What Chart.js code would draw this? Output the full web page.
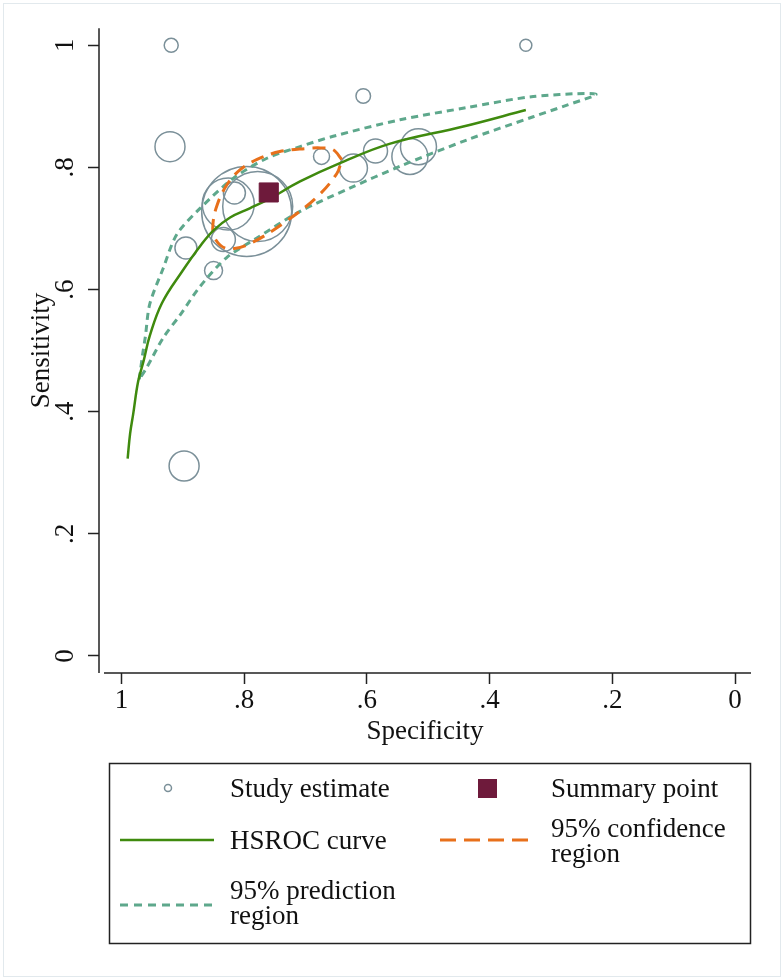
<!DOCTYPE html>
<html>
<head>
<meta charset="utf-8">
<script src="https://cdn.jsdelivr.net/npm/chart.js@4.4.1/dist/chart.umd.min.js"></script>
<style>
  html, body { margin: 0; padding: 0; background: #fff; }
  canvas { display: block; }
</style>
</head>
<body>
<canvas id="canvas-1" width="784" height="980"></canvas>
<script>
// study estimates
var studySpec = [0.919, 0.341, 0.606, 0.921, 0.796, 0.778, 0.826, 0.816, 0.834, 0.895, 0.850, 0.674, 0.622, 0.586, 0.530, 0.516, 0.898];
var studySens = [1.000, 1.000, 0.917, 0.834, 0.728, 0.736, 0.740, 0.758, 0.682, 0.668, 0.631, 0.818, 0.799, 0.827, 0.818, 0.834, 0.311];
var studyWeight = [49, 36, 53, 225, 2025, 1225, 676, 121, 144, 121, 81, 64, 196, 144, 324, 324, 225];

// summary point
var summarySpec = [0.760];
var summarySens = [0.759];

// HSROC curve
var hsrocSpec = [0.990, 0.986, 0.981, 0.973, 0.964, 0.954, 0.934, 0.901, 0.872, 0.850, 0.823, 0.791, 0.760, 0.709, 0.644, 0.562, 0.443, 0.341];
var hsrocSens = [0.323, 0.364, 0.396, 0.449, 0.483, 0.524, 0.578, 0.630, 0.671, 0.697, 0.718, 0.733, 0.748, 0.777, 0.807, 0.839, 0.867, 0.894];

// 95% confidence region
var confSpec = [0.641, 0.655, 0.676, 0.698, 0.742, 0.779, 0.807, 0.828, 0.844, 0.851, 0.848, 0.828, 0.791, 0.730, 0.681, 0.649, 0.641];
var confSens = [0.813, 0.829, 0.832, 0.831, 0.826, 0.813, 0.796, 0.772, 0.739, 0.707, 0.684, 0.667, 0.675, 0.713, 0.752, 0.790, 0.813];

// 95% prediction region
var predSpec = [0.971, 0.966, 0.961, 0.954, 0.932, 0.910, 0.872, 0.818, 0.763, 0.709, 0.655, 0.546, 0.437, 0.329, 0.227,
                0.274, 0.329, 0.437, 0.546, 0.628, 0.709, 0.780, 0.829, 0.872, 0.904, 0.932, 0.959, 0.971];
var predSens = [0.453, 0.491, 0.524, 0.576, 0.635, 0.690, 0.733, 0.782, 0.815, 0.834, 0.851, 0.878, 0.898, 0.916, 0.920,
                0.902, 0.883, 0.845, 0.802, 0.766, 0.728, 0.684, 0.652, 0.605, 0.559, 0.521, 0.472, 0.453];

var tickValues = [0, 0.2, 0.4, 0.6, 0.8, 1];
var tickLabels = ['0', '.2', '.4', '.6', '.8', '1'];

var seriesLabels = ['Study estimate', 'Summary point', 'HSROC curve', '95% confidence region', '95% prediction region'];

var studyColor = '#7b9099';
var summaryColor = '#6e1a3b';
var hsrocColor = '#3f8a0e';
var confColor = '#e8701b';
var predColor = '#5ea88c';
var axisColor = '#222';
var serif = "'Liberation Serif', 'Times New Roman', serif";

function pairs(xs, ys) {
  return xs.map(function (x, i) { return { x: x, y: ys[i] }; });
}

var studyData = studySpec.map(function (x, i) {
  return { x: x, y: studySens[i], r: Math.sqrt(studyWeight[i]) };
});

// Stata style axis lines: they don't meet in the corner
var axesPlugin = {
  id: 'stataAxes',
  afterDraw: function (chart) {
    var a = chart.chartArea;
    var ctx = chart.ctx;
    ctx.save();
    // faint graph region outline
    ctx.strokeStyle = '#e2e9ed';
    ctx.lineWidth = 1;
    ctx.strokeRect(3.5, 3.5, chart.width - 7, chart.height - 7);

    ctx.strokeStyle = axisColor;
    ctx.lineWidth = 1.5;
    ctx.beginPath();
    ctx.moveTo(a.left, a.top);
    ctx.lineTo(a.left, a.bottom);
    ctx.moveTo(a.left + 5, a.bottom);
    ctx.lineTo(a.right, a.bottom);
    ctx.stroke();
    ctx.restore();
  }
};

var legendPlugin = {
  id: 'stataLegend',
  afterDraw: function (chart) {
    var ctx = chart.ctx;
    ctx.save();
    ctx.strokeStyle = axisColor;
    ctx.lineWidth = 1.5;
    ctx.strokeRect(109.5, 763.5, 641, 180);

    ctx.font = '27px ' + serif;
    ctx.fillStyle = '#111';
    ctx.textBaseline = 'alphabetic';
    ctx.textAlign = 'left';

    // study estimate
    ctx.beginPath();
    ctx.arc(168, 788, 3.5, 0, Math.PI * 2);
    ctx.strokeStyle = studyColor;
    ctx.lineWidth = 1.5;
    ctx.stroke();
    ctx.fillText(seriesLabels[0], 230, 797);

    // summary point
    ctx.fillStyle = summaryColor;
    ctx.fillRect(478, 779, 19, 19);
    ctx.fillStyle = '#111';
    ctx.fillText(seriesLabels[1], 551, 797);

    function seg(x1, x2, y, color, w, dash) {
      ctx.beginPath();
      ctx.setLineDash(dash);
      ctx.strokeStyle = color;
      ctx.lineWidth = w;
      ctx.moveTo(x1, y);
      ctx.lineTo(x2, y);
      ctx.stroke();
      ctx.setLineDash([]);
    }

    seg(120, 214, 840, hsrocColor, 2.5, []);
    ctx.fillText(seriesLabels[2], 230, 849);

    seg(440, 528, 840, confColor, 3, [16, 8]);
    ctx.fillText('95% confidence', 551, 837);
    ctx.fillText('region', 551, 862);

    seg(120, 212, 905, predColor, 3, [8, 6]);
    ctx.fillText('95% prediction', 230, 899);
    ctx.fillText('region', 230, 924);
    ctx.restore();
  }
};

var chart = new Chart(document.getElementById('canvas-1'), {
  type: 'scatter',
  data: {
    datasets: [{
      label: seriesLabels[1],
      data: pairs(summarySpec, summarySens),
      pointStyle: 'rect',
      pointRadius: 13.5,
      backgroundColor: summaryColor,
      borderColor: summaryColor,
      borderWidth: 1
    }, {
      label: seriesLabels[2],
      data: pairs(hsrocSpec, hsrocSens),
      showLine: true,
      pointRadius: 0,
      borderColor: hsrocColor,
      borderWidth: 2.5,
      tension: 0.4
    }, {
      label: seriesLabels[3],
      data: pairs(confSpec, confSens),
      showLine: true,
      pointRadius: 0,
      borderColor: confColor,
      borderWidth: 3,
      borderDash: [13, 8],
      tension: 0.35
    }, {
      label: seriesLabels[4],
      data: pairs(predSpec, predSens),
      showLine: true,
      pointRadius: 0,
      borderColor: predColor,
      borderWidth: 3,
      borderDash: [7, 5],
      tension: 0.3
    }, {
      type: 'bubble',
      label: seriesLabels[0],
      data: studyData,
      backgroundColor: 'rgba(0,0,0,0)',
      borderColor: studyColor,
      borderWidth: 1.5
    }]
  },
  options: {
    responsive: false,
    animation: false,
    layout: { autoPadding: false, padding: { left: 0, top: 26, right: 33, bottom: 227 } },
    plugins: {
      legend: { display: false },
      tooltip: { enabled: false }
    },
    scales: {
      x: {
        type: 'linear',
        reverse: true,
        min: -0.026,
        max: 1.0367,
        afterFit: function (scale) { scale.height = 80; },
        afterBuildTicks: function (scale) {
          scale.ticks = tickValues.map(function (v) { return { value: v }; });
        },
        ticks: {
          padding: 1,
          color: '#111',
          font: { family: serif, size: 27 },
          callback: function (value) { return tickLabels[tickValues.indexOf(value)]; }
        },
        grid: { drawOnChartArea: false, tickLength: 11, tickColor: axisColor, tickWidth: 1.5 },
        border: { display: false },
        title: {
          display: true,
          text: 'Specificity',
          color: '#111',
          font: { family: serif, size: 27 },
          padding: { top: 0, bottom: 5 }
        }
      },
      y: {
        type: 'linear',
        min: -0.028,
        max: 1.028,
        afterFit: function (scale) { scale.width = 99; },
        afterBuildTicks: function (scale) {
          scale.ticks = tickValues.map(function (v) { return { value: v }; });
        },
        ticks: {
          padding: 12,
          minRotation: 90,
          maxRotation: 90,
          crossAlign: 'center',
          color: '#111',
          font: { family: serif, size: 27 },
          callback: function (value) { return tickLabels[tickValues.indexOf(value)]; }
        },
        grid: { drawOnChartArea: false, tickLength: 11, tickColor: axisColor, tickWidth: 1.5 },
        border: { display: false },
        title: {
          display: true,
          text: 'Sensitivity',
          color: '#111',
          font: { family: serif, size: 27 },
          padding: { top: 26, bottom: 0 }
        }
      }
    }
  },
  plugins: [axesPlugin, legendPlugin]
});
</script>
</body>
</html>
